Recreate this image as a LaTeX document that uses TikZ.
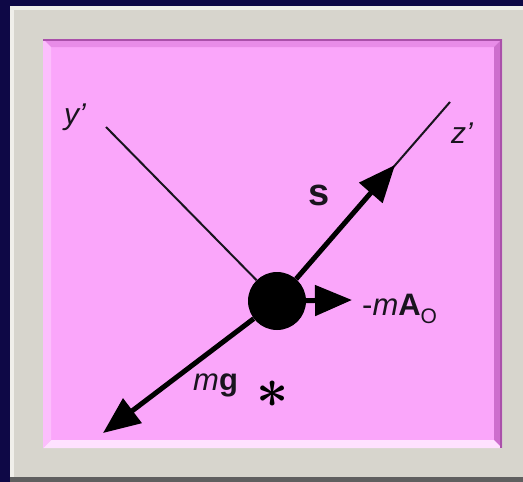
\documentclass[tikz,border=0pt]{standalone}
\usepackage{fontspec}
\setmainfont{Liberation Sans}
\usetikzlibrary{arrows.meta}
\definecolor{navy}{RGB}{14,8,70}
\definecolor{framegray}{RGB}{215,213,205}
\definecolor{framelight}{RGB}{240,239,234}
\definecolor{frameshadow}{RGB}{95,95,95}
\definecolor{pinkbg}{RGB}{250,166,250}
\definecolor{pinkdark}{RGB}{170,80,170}
\definecolor{pinktop}{RGB}{232,140,232}
\definecolor{pinkright}{RGB}{205,110,205}
\definecolor{pinkbottom}{RGB}{255,225,255}
\definecolor{pinkleft}{RGB}{252,190,252}
\definecolor{ink}{RGB}{25,20,30}
\tikzset{
  axisline/.style={draw=ink, line width=2pt},
  force/.style={draw=black, line width=5pt, -{Triangle[length=37pt,width=30pt]}},
  lbl/.style={text=ink, inner sep=0pt, font=\fontsize{30}{32}\selectfont},
}
\begin{document}
\begin{tikzpicture}[x=1pt,y=-1pt]
\useasboundingbox (0,0) rectangle (523,482);
% background and frame
\fill[navy] (0,0) rectangle (523,482);
\fill[framegray] (10,6) rectangle (523,477);
\fill[framelight] (10,6) rectangle (523,10);
\fill[framelight] (10,6) rectangle (14,477);
\fill[frameshadow] (10,477) rectangle (523,482);
% pink panel with bevel
\fill[pinkbg] (43,39) rectangle (502,448);
\fill[pinktop] (43,39) -- (502,39) -- (494,47) -- (51,47) -- cycle;
\fill[pinkright] (502,39) -- (502,448) -- (494,440) -- (494,47) -- cycle;
\fill[pinkbottom] (43,448) -- (502,448) -- (494,440) -- (51,440) -- cycle;
\fill[pinkleft] (43,39) -- (51,47) -- (51,440) -- (43,448) -- cycle;
\draw[pinkdark, line width=2pt] (43,40) -- (501,40) -- (501,448);
% body and axes
\node (ball) [circle, fill=black, minimum size=58pt, inner sep=0pt] at (277,301) {};
\coordinate (yend) at (106,127);
\coordinate (zend) at (450,102);
\coordinate (stip) at (395,165);
\coordinate (gtip) at (103,433);
\coordinate (atip) at (352,300);
\draw[axisline] (ball) -- (yend);
\draw[axisline] (ball) -- (zend);
\draw[force] (ball) -- (stip);
\draw[force] (ball) -- (gtip);
\draw[force] (ball) -- (atip);
% labels
\node[lbl] (ylab) at (75,117) {\itshape y’};
\node[lbl] (zlab) at (462,133) {\itshape z’};
\node[lbl, font=\fontsize{38}{40}\selectfont\bfseries] (slab) at (319,195) {s};
\node[lbl, anchor=base west, font=\fontsize{31}{33}\selectfont] (glab) at (193,390) {\itshape m\upshape\bfseries g};
\node[lbl, anchor=base west, font=\fontsize{31}{33}\selectfont] (alab) at (362,315) {-\itshape m\upshape\bfseries A\mdseries\raisebox{-8pt}{\fontsize{21}{22}\selectfont O}};
\node[inner sep=0pt, text=black] (star) at (273,394) {\scalebox{5.6}{\boldmath$\ast$}};
\end{tikzpicture}
\end{document}
